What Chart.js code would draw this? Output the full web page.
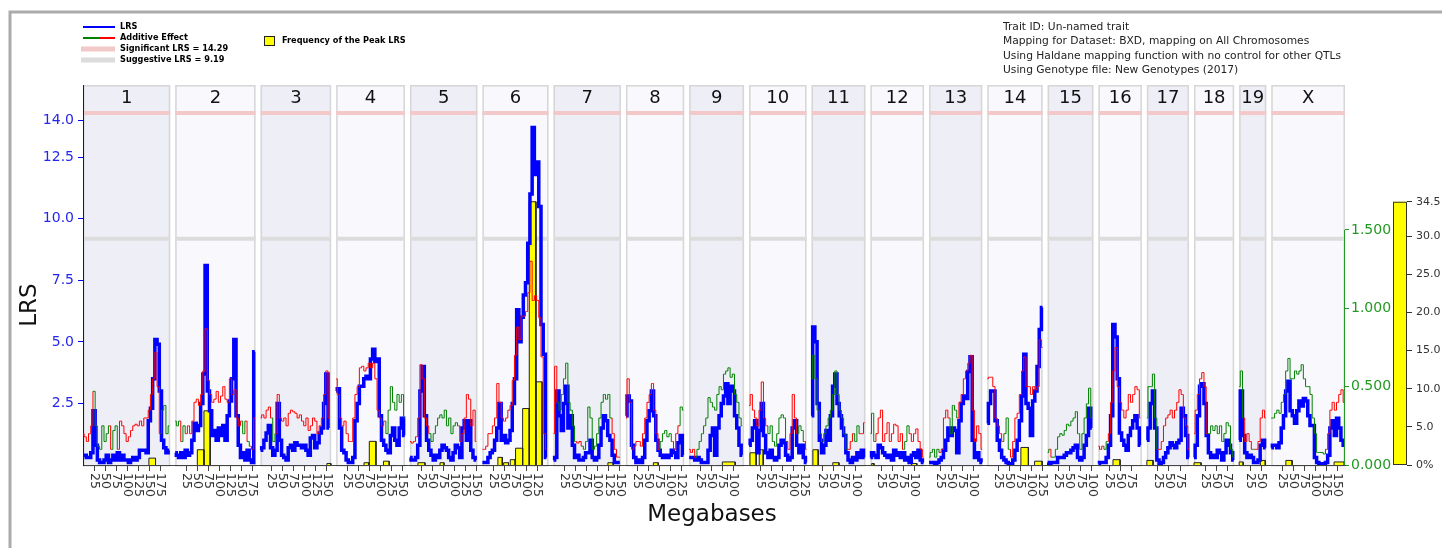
<!DOCTYPE html>
<html>
<head>
<meta charset="utf-8">
<script src="https://cdn.jsdelivr.net/npm/chart.js@4.4.1/dist/chart.umd.min.js"></script>
<style>
  html, body { margin: 0; padding: 0; background: #fff; }
  #wrap { width: 1442px; height: 548px; }
</style>
</head>
<body>
<div id="wrap"><canvas id="qtlChart" width="1442" height="548"></canvas></div>
<script>
// chromosomes (Mb)
var chrNames = ['1','2','3','4','5','6','7','8','9','10','11','12','13','14','15','16','17','18','19','X'];
var chrLengths = [197.2, 181.7, 159.6, 155.6, 152.5, 149.5, 152.5, 131.7, 124.1, 130.0, 121.8, 121.3, 120.3, 125.2, 103.5, 98.3, 95.3, 90.8, 61.3, 166.7];
var chrGap = 11.3;
var sampleStep = 5; // Mb between samples in lrsValues / addValues

// LRS, one array per chromosome, sampled at 0, 5, 10 ... Mb
var lrsValues = [
  [0.4,0.4,0.3,0.3,0.5,2.2,0.8,0.2,0.1,0.1, 0.2,0.4,0.1,0.2,0.4,0.2,0.5,0.2,0.4,0.2, 0.2,0.1,0.2,0.3,0.2,0.3,0.6,0.6,0.6,0.5, 1.8,2.3,3.5,5.1,4.9,3.0,1.0,0.7,0.5,0.6],
  [0.5,0.4,0.3,0.5,0.3,0.6,0.4,0.5,1.0,1.7, 1.4,1.6,2.5,3.7,8.1,3.0,2.2,1.2,1.4,1.0, 1.5,1.2,1.6,1.0,2.0,2.6,3.5,5.1,2.0,0.8, 0.3,0.5,0.2,0.6,0.2,0.1,4.6],
  [0.6,0.7,1.0,1.3,1.6,0.7,0.4,0.6,2.5,1.0, 0.4,0.3,0.2,0.7,0.8,0.6,0.9,0.8,0.8,0.7, 0.8,0.6,0.4,1.1,1.2,0.7,0.9,1.3,1.5,2.5, 3.7,1.5],
  [3.0,3.1,1.5,0.6,0.5,0.2,0.1,0.1,0.3,1.8, 2.5,3.2,3.2,3.5,3.6,3.5,4.3,4.7,4.2,4.3, 2.0,1.0,0.8,0.6,0.5,1.2,1.5,1.0,0.8,1.5, 1.9,1.2],
  [0.3,0.2,0.2,0.3,0.8,3.0,4.0,2.0,1.0,0.6, 0.4,0.2,0.4,0.3,0.6,0.8,0.7,0.6,0.3,0.2, 0.5,0.8,0.7,0.3,1.5,1.8,1.0,1.8,0.6,0.3, 0.2],
  [0.1,0.1,0.1,0.3,0.5,0.6,1.0,1.5,2.5,1.0, 1.2,0.9,1.0,1.4,2.5,3.5,6.3,5.0,6.0,6.9, 7.4,9.0,11.0,13.7,11.8,12.3,10.5,5.7,4.5,0.3],
  [0.2,0.3,3.0,2.0,1.4,2.5,3.2,1.5,2.0,0.8, 0.3,0.4,0.2,0.2,0.3,0.5,0.5,1.0,0.3,0.2, 0.3,0.8,1.5,2.0,1.8,1.2,1.0,0.4,0.1,0.1, 0.1],
  [2.0,2.8,2.6,0.8,0.3,0.1,0.2,0.1,0.3,1.0, 1.8,2.2,3.0,2.0,1.0,0.6,0.4,0.3,0.4,0.3, 0.4,0.6,0.5,0.3,0.9,1.2,0.4],
  [0.3,0.3,0.3,0.2,0.3,0.2,0.1,0.1,0.1,0.6, 1.2,1.5,0.4,1.5,2.0,2.5,2.8,3.3,2.5,3.2, 3.0,2.0,1.5,0.8,0.4],
  [0.8,1.0,1.5,1.8,0.5,1.4,2.5,1.2,0.5,0.3, 0.6,0.3,0.2,0.3,0.8,1.0,0.9,0.4,0.2,0.3, 1.5,1.8,0.8,0.5,0.8,0.3,0.1],
  [2.0,5.6,5.0,2.5,1.0,0.5,0.8,1.4,1.0,2.0, 3.2,3.7,2.5,2.0,1.5,1.2,0.5,0.2,0.1,0.3, 0.2,0.5,0.3,0.6,0.3],
  [0.3,0.5,0.4,0.3,0.8,0.7,0.5,0.4,0.3,0.4, 0.2,0.6,0.4,0.5,0.3,0.5,0.2,0.3,0.1,0.4, 0.5,0.3,0.6,0.2,0.1],
  [0.1,0.1,0.1,0.05,0.1,0.2,0.3,0.6,1.0,1.5, 1.2,1.5,1.4,0.5,1.8,2.5,2.8,2.7,3.8,4.4, 1.0,0.3,0.5,0.2,0.1],
  [1.7,2.5,3.0,3.0,1.8,1.0,0.6,0.3,0.2,0.1, 0.05,0.05,0.2,0.6,1.0,1.8,2.8,4.5,2.5,2.3, 1.2,2.6,3.0,4.0,5.5,6.4],
  [0.1,0.05,0.1,0.1,0.1,0.3,0.3,0.3,0.4,0.5, 0.5,0.6,0.7,0.8,0.3,0.2,0.3,0.8,1.2,2.3, 1.5],
  [0.05,0.1,0.1,0.1,0.3,0.8,2.0,5.7,5.2,3.5, 1.3,1.0,0.8,0.6,1.2,1.5,1.8,2.0,1.5,0.8],
  [1.0,1.5,2.5,3.0,1.5,0.2,0.05,0.1,0.3,0.5, 0.7,0.9,0.8,0.7,0.9,1.0,2.3,2.0,1.2,0.3],
  [0.3,0.8,2.0,3.2,3.3,2.5,1.2,0.5,0.3,0.4, 0.3,0.6,0.5,0.2,0.5,1.0,0.8,0.5,0.2],
  [1.0,3.0,1.2,0.5,0.3,0.4,0.3,0.1,0.1,0.2, 0.8,1.0,0.7],
  [0.7,0.8,0.8,0.7,0.9,1.5,2.0,3.0,3.4,2.2, 2.0,1.7,2.2,2.6,2.4,2.7,2.6,2.0,1.6,1.6, 0.3,0.1,0.05,0.05,0.05,0.1,0.4,1.5,1.8,1.2, 1.9,1.5,1.0,0.8]
];

// additive effect, same grid; positive = red, negative = green (plotted as magnitude)
var addValues = [
  [-0.2,0.18,0.15,0.2,0.25,0.47,-0.25,-0.12,-0.1,-0.25, -0.15,-0.2,-0.25,0.1,-0.22,-0.25,-0.1,0.28,0.25,0.2, 0.15,0.18,0.22,0.25,0.26,0.25,0.28,0.25,0.3,0.3, 0.35,0.45,0.55,0.72,0.5,0.2,-0.35,-0.38,-0.2,-0.25],
  [0.28,-0.25,-0.28,0.15,-0.25,-0.2,0.25,0.2,0.28,0.4, 0.42,0.38,0.45,0.6,0.87,0.54,0.45,0.4,0.42,0.47, 0.4,0.44,0.5,0.42,0.4,0.55,0.45,0.48,0.3,0.25, 0.28,-0.2,-0.28,0.15,-0.12,0.1,0.3],
  [0.3,0.32,0.3,0.35,0.37,0.3,-0.15,-0.2,0.45,0.3, 0.28,0.3,0.25,0.33,0.35,0.34,0.33,0.3,0.32,0.28, 0.25,0.3,0.22,0.25,0.3,0.28,0.2,0.25,0.3,0.45, 0.6,0.3],
  [0.55,0.45,0.3,0.25,0.28,0.2,0.15,0.15,0.3,0.45, 0.5,0.62,0.63,0.6,0.62,0.65,0.62,0.65,0.55,0.35, 0.3,0.25,0.28,-0.2,-0.35,-0.5,-0.4,-0.35,-0.45,-0.4, -0.45,-0.3],
  [0.15,0.14,0.15,0.18,0.3,0.64,0.55,0.3,0.25,0.2, -0.15,-0.2,-0.25,-0.3,-0.32,-0.3,-0.35,-0.25,-0.3,-0.2, -0.25,-0.27,-0.25,0.15,0.2,0.3,0.45,0.42,0.25,0.35, 0.15],
  [0.1,0.1,0.12,0.2,0.2,0.25,0.3,0.52,0.4,0.3, 0.28,0.3,0.35,0.38,0.54,0.7,0.88,0.8,0.95,0.95, 0.98,1.1,1.3,1.05,1.08,1.05,0.94,0.69,0.2,0.1],
  [0.2,0.63,0.4,-0.35,-0.45,-0.55,-0.65,-0.4,-0.35,-0.25, -0.15,0.14,0.15,0.12,-0.1,-0.15,-0.37,-0.3,-0.1,-0.12, -0.2,-0.3,-0.4,-0.45,-0.42,-0.45,-0.3,0.2,0.1,0.05, 0.05],
  [0.3,0.55,0.4,0.1,0.12,0.15,0.15,0.12,0.2,0.3, 0.4,0.45,0.52,0.35,0.2,0.1,-0.15,-0.2,-0.22,-0.18, -0.2,-0.15,0.1,0.2,0.25,-0.37,-0.35],
  [0.1,0.08,0.1,0.05,-0.1,-0.15,-0.2,-0.25,-0.3,-0.43, -0.4,-0.37,-0.35,-0.45,-0.5,-0.48,-0.58,-0.6,-0.62,-0.56, -0.58,-0.45,-0.4,-0.3,-0.25],
  [0.38,0.45,0.35,0.3,0.25,0.35,0.53,0.3,0.25,-0.2, -0.25,-0.15,-0.12,-0.2,-0.3,-0.32,-0.3,-0.15,0.1,0.2, 0.45,0.3,0.2,-0.25,-0.22,-0.15,0.1],
  [-0.55,-0.7,-0.55,-0.35,-0.2,-0.15,-0.2,-0.25,-0.3,-0.35, -0.45,-0.6,-0.45,-0.35,-0.3,-0.2,-0.1,0.1,0.15,0.2, -0.15,-0.25,-0.2,0.2,0.27],
  [-0.2,-0.33,-0.15,0.2,0.3,0.35,0.15,0.2,0.27,0.15, 0.2,0.26,0.25,0.15,0.2,0.1,-0.15,-0.25,-0.2,0.15, 0.2,0.23,0.15,0.1,0.05],
  [-0.05,-0.08,-0.1,-0.05,-0.1,-0.08,0.1,0.3,0.35,0.3, -0.2,-0.38,-0.35,-0.3,0.4,0.45,0.55,0.6,0.65,0.7, 0.35,0.15,0.25,0.2,0.1],
  [0.55,0.56,0.56,0.5,0.3,0.25,0.2,0.15,-0.2,-0.3, -0.1,0.05,0.15,0.3,0.33,0.45,0.6,0.69,0.5,0.5, 0.45,0.5,0.48,0.5,0.8,0.75],
  [-0.08,-0.1,0.05,-0.05,-0.1,-0.18,-0.2,-0.19,-0.22,-0.26, -0.25,-0.28,-0.3,-0.34,-0.2,-0.1,-0.2,-0.3,-0.39,-0.49, -0.3],
  [0.12,0.1,0.12,-0.1,-0.15,0.2,0.4,0.6,0.75,0.5, 0.4,0.35,0.3,0.35,0.45,0.4,0.45,0.5,0.48,0.3],
  [-0.3,-0.5,-0.5,-0.58,-0.3,-0.1,0.1,0.15,0.25,0.3, 0.32,0.35,0.3,0.35,0.4,0.48,0.45,0.3,0.25,0.1],
  [0.2,0.35,0.45,0.55,0.59,0.5,0.2,-0.2,-0.25,-0.22, -0.25,-0.2,-0.25,-0.15,-0.2,-0.27,-0.25,-0.1,-0.05],
  [-0.5,-0.6,-0.3,0.15,0.2,0.15,0.1,-0.1,0.1,0.15, 0.3,0.35,0.3],
  [-0.3,-0.3,-0.33,-0.35,-0.33,-0.4,-0.45,-0.6,-0.68,-0.55, -0.55,-0.6,-0.58,-0.6,-0.64,-0.55,-0.5,-0.5,-0.45,-0.3, -0.2,-0.08,-0.08,-0.08,-0.07,-0.1,0.2,0.35,0.4,0.35, 0.4,0.45,0.48,0.4]
];

// frequency of the peak LRS (histogram bins)
var freqChr    = ['1','2','2','3','4','4','4','5','5','6','6','6','6','6','6','6','7','8','9','10','10','11','11','12','12','14','14','16','17','18','19','19','X','X'];
var freqStart  = [149,50,65,150,63,75,107,18,68,35,48,63,75,91,106,121,123,62,75,2,23,3,48,3,93,76,107,33,0,0,0,48,33,142];
var freqEnd    = [164,65,79,159,74,90,120,34,77,45,59,74,91,106,121,135,135,73,104,16,32,15,62,8,105,93,124,49,14,16,9,59,47,165];
var freqValues = [0.9,2.0,7.1,0.2,0.3,3.1,0.5,0.3,0.3,1.0,0.3,0.7,2.2,7.4,34.5,10.9,0.3,0.3,0.4,1.6,2.0,2.0,0.3,0.2,0.2,2.3,0.5,0.7,0.6,0.3,0.4,0.6,0.6,0.4];

var lrsTicks = [2.5, 5, 7.5, 10, 12.5, 14];
var addTicks = [0, 0.5, 1, 1.5];
var freqTicks = [0, 5, 10, 15, 20, 25, 30, 34.5];
var mbTicks = [25, 50, 75, 100, 125, 150, 175];
var significantLRS = 14.29;
var suggestiveLRS = 9.19;
var infoLines = [
  'Trait ID: Un-named trait',
  'Mapping for Dataset: BXD, mapping on All Chromosomes',
  'Using Haldane mapping function with no control for other QTLs',
  'Using Genotype file: New Genotypes (2017)'
];

var FONT = '"DejaVu Sans", Verdana, sans-serif';

// chromosome offsets on one genome-wide axis
var chrOffsets = [];
var pos = 0;
for (var c = 0; c < chrLengths.length; c++) {
  chrOffsets.push(pos);
  pos += chrLengths[c] + chrGap;
}
var totalMb = pos - chrGap;

var xTickValues = [];
var xTickLabels = [];
for (var c = 0; c < chrLengths.length; c++) {
  for (var t = 0; t < mbTicks.length; t++) {
    if (mbTicks[t] <= chrLengths[c]) {
      xTickValues.push(chrOffsets[c] + mbTicks[t]);
      xTickLabels.push(String(mbTicks[t]));
    }
  }
}

var lrsPoints = [];
var addPoints = [];
for (var c = 0; c < chrLengths.length; c++) {
  for (var i = 0; i < lrsValues[c].length; i++) {
    lrsPoints.push({x: chrOffsets[c] + i * sampleStep, y: lrsValues[c][i]});
  }
  lrsPoints.push({x: chrOffsets[c] + chrLengths[c], y: null});
  for (var i = 0; i < addValues[c].length; i++) {
    addPoints.push({x: chrOffsets[c] + i * sampleStep, y: Math.abs(addValues[c][i]), s: addValues[c][i]});
  }
  addPoints.push({x: chrOffsets[c] + chrLengths[c], y: null, s: 0});
}

var freqPoints = [];
for (var k = 0; k < freqValues.length; k++) {
  var off = chrOffsets[chrNames.indexOf(freqChr[k])];
  var x0 = off + freqStart[k], x1 = off + freqEnd[k];
  freqPoints.push({x: x0, y: 0}, {x: x0, y: freqValues[k]}, {x: x1, y: freqValues[k]}, {x: x1, y: 0}, {x: x1, y: null});
}

var backdrop = {
  id: 'backdrop',
  beforeDraw: function (chart) {
    var ctx = chart.ctx, area = chart.chartArea;
    var xs = chart.scales.x, ys = chart.scales.yLRS;
    ctx.save();
    ctx.fillStyle = '#fff';
    ctx.fillRect(0, 0, chart.width, chart.height);

    // outer frame
    ctx.strokeStyle = '#ababab';
    ctx.lineWidth = 3;
    ctx.beginPath();
    ctx.moveTo(10, chart.height + 5);
    ctx.lineTo(10, 12);
    ctx.lineTo(chart.width + 5, 12);
    ctx.stroke();

    // chromosome bands, threshold lines, numbers
    for (var c = 0; c < chrNames.length; c++) {
      var bx0 = xs.getPixelForValue(chrOffsets[c]);
      var bx1 = xs.getPixelForValue(chrOffsets[c] + chrLengths[c]);
      ctx.fillStyle = c % 2 === 0 ? '#eeeef7' : '#f8f8fd';
      ctx.fillRect(bx0, area.top, bx1 - bx0, area.bottom - area.top);
      ctx.strokeStyle = '#d6d6d6';
      ctx.lineWidth = 1.5;
      ctx.strokeRect(bx0 + 0.75, area.top + 0.75, bx1 - bx0 - 1.5, area.bottom - area.top);

      ctx.lineWidth = 4;
      ctx.strokeStyle = '#f2c8c8';
      var sy = ys.getPixelForValue(significantLRS);
      ctx.beginPath(); ctx.moveTo(bx0, sy); ctx.lineTo(bx1, sy); ctx.stroke();
      ctx.strokeStyle = '#dcdcdc';
      var gy = ys.getPixelForValue(suggestiveLRS);
      ctx.beginPath(); ctx.moveTo(bx0, gy); ctx.lineTo(bx1, gy); ctx.stroke();

      ctx.fillStyle = '#111';
      ctx.font = '18px ' + FONT;
      ctx.textAlign = 'center';
      ctx.textBaseline = 'middle';
      ctx.fillText(chrNames[c], (bx0 + bx1) / 2, area.top + 13);
    }

    // legend
    ctx.lineWidth = 2;
    ctx.strokeStyle = '#0000ff';
    ctx.beginPath(); ctx.moveTo(83, 27); ctx.lineTo(115, 27); ctx.stroke();
    ctx.strokeStyle = '#008000';
    ctx.beginPath(); ctx.moveTo(83, 38); ctx.lineTo(100, 38); ctx.stroke();
    ctx.strokeStyle = '#ff0000';
    ctx.beginPath(); ctx.moveTo(100, 38); ctx.lineTo(115, 38); ctx.stroke();
    ctx.lineWidth = 5;
    ctx.strokeStyle = '#f2c8c8';
    ctx.beginPath(); ctx.moveTo(81, 49); ctx.lineTo(115, 49); ctx.stroke();
    ctx.strokeStyle = '#dcdcdc';
    ctx.beginPath(); ctx.moveTo(81, 60); ctx.lineTo(115, 60); ctx.stroke();
    ctx.fillStyle = '#ffff00';
    ctx.fillRect(264, 36, 10, 9);
    ctx.lineWidth = 1;
    ctx.strokeStyle = '#222';
    ctx.strokeRect(264.5, 36.5, 10, 9);

    ctx.fillStyle = '#000';
    ctx.font = 'bold 8.2px ' + FONT;
    ctx.textAlign = 'left';
    ctx.textBaseline = 'middle';
    ctx.fillText('LRS', 120, 27);
    ctx.fillText('Additive Effect', 120, 38);
    ctx.fillText('Significant LRS = ' + significantLRS.toFixed(2), 120, 49);
    ctx.fillText('Suggestive LRS = ' + suggestiveLRS.toFixed(2), 120, 60);
    ctx.fillText('Frequency of the Peak LRS', 282, 41);

    // trait info
    ctx.fillStyle = '#222';
    ctx.font = '10.7px ' + FONT;
    for (var i = 0; i < infoLines.length; i++) {
      ctx.fillText(infoLines[i], 1003, 27 + i * 14.5);
    }
    ctx.restore();
  },
  afterDraw: function (chart) {
    var ctx = chart.ctx, area = chart.chartArea;
    var xs = chart.scales.x, ya = chart.scales.yAdd, yf = chart.scales.yFreq;
    ctx.save();

    // rotated Mb labels
    ctx.fillStyle = '#333';
    ctx.font = '12.5px ' + FONT;
    ctx.textAlign = 'left';
    ctx.textBaseline = 'middle';
    for (var i = 0; i < xTickValues.length; i++) {
      ctx.save();
      ctx.translate(xs.getPixelForValue(xTickValues[i]), area.bottom + 8);
      ctx.rotate(Math.PI / 2);
      ctx.fillText(xTickLabels[i], 0, 0);
      ctx.restore();
    }

    // titles
    ctx.fillStyle = '#111';
    ctx.font = '23px ' + FONT;
    ctx.textAlign = 'center';
    ctx.fillText('Megabases', 712, 515);
    ctx.save();
    ctx.translate(30, 305);
    ctx.rotate(-Math.PI / 2);
    ctx.fillText('LRS', 0, 0);
    ctx.restore();

    // additive axis line (0 .. 1.5 only)
    ctx.strokeStyle = '#229922';
    ctx.lineWidth = 1;
    var ax = Math.round(ya.left) - 0.5;
    ctx.beginPath();
    ctx.moveTo(ax, ya.getPixelForValue(0));
    ctx.lineTo(ax, ya.getPixelForValue(addTicks[addTicks.length - 1]));
    ctx.stroke();

    // frequency colour bar
    var fTop = yf.getPixelForValue(freqTicks[freqTicks.length - 1]);
    var fBot = yf.getPixelForValue(0);
    var fx = Math.round(yf.left);
    ctx.fillStyle = '#ffff00';
    ctx.fillRect(fx - 14, fTop, 14, fBot - fTop);
    ctx.strokeStyle = '#333';
    ctx.strokeRect(fx - 13.5, fTop + 0.5, 13, fBot - fTop - 1);
    ctx.restore();
  }
};

var ctx = document.getElementById('qtlChart');
var qtlChart = new Chart(ctx, {
  type: 'line',
  data: {
    datasets: [{
      label: 'Frequency of the Peak LRS',
      data: freqPoints,
      yAxisID: 'yFreq',
      borderColor: '#222',
      borderWidth: 1,
      backgroundColor: '#ffff00',
      fill: 'origin',
      pointRadius: 0,
      order: 3
    }, {
      label: 'LRS',
      data: lrsPoints,
      yAxisID: 'yLRS',
      borderColor: '#0000ff',
      borderWidth: 3.5,
      pointRadius: 0,
      fill: false,
      stepped: 'middle',
      order: 2
    }, {
      label: 'Additive Effect',
      data: addPoints,
      yAxisID: 'yAdd',
      borderColor: '#ff0000',
      borderWidth: 1,
      pointRadius: 0,
      fill: false,
      stepped: 'middle',
      segment: {
        borderColor: function (c) { return addPoints[c.p1DataIndex].s < 0 ? '#008000' : '#ff0000'; }
      },
      order: 1
    }]
  },
  options: {
    responsive: false,
    animation: false,
    events: [],
    layout: { padding: { top: 85, left: 0, right: 0, bottom: 0 } },
    plugins: {
      legend: { display: false },
      tooltip: { enabled: false },
      title: { display: false }
    },
    scales: {
      x: {
        type: 'linear',
        min: 0,
        max: totalMb,
        border: { display: true, color: '#444', width: 1 },
        grid: { drawOnChartArea: false, drawTicks: true, tickLength: 6, tickColor: '#444' },
        ticks: { display: false },
        afterBuildTicks: function (s) { s.ticks = xTickValues.map(function (v) { return {value: v}; }); },
        afterFit: function (s) { s.height = 83; }
      },
      yLRS: {
        type: 'linear',
        position: 'left',
        min: 0,
        max: 15.43,
        border: { display: true, color: '#0000ff', width: 1 },
        grid: { drawOnChartArea: false, tickLength: 5, tickColor: '#0000ff' },
        ticks: {
          color: '#2626ee',
          font: { family: FONT, size: 14 },
          padding: 4,
          autoSkip: false,
          callback: function (v) { return v.toFixed(1); }
        },
        afterBuildTicks: function (s) { s.ticks = lrsTicks.map(function (v) { return {value: v}; }); },
        afterFit: function (s) { s.width = 83; }
      },
      yAdd: {
        type: 'linear',
        position: 'right',
        weight: 1,
        min: 0,
        max: 2.425,
        border: { display: false },
        grid: { drawOnChartArea: false, tickLength: 4, tickColor: '#229922' },
        ticks: {
          color: '#229922',
          font: { family: FONT, size: 14 },
          padding: 2,
          autoSkip: false,
          callback: function (v) { return v.toFixed(3); }
        },
        afterBuildTicks: function (s) { s.ticks = addTicks.map(function (v) { return {value: v}; }); },
        afterFit: function (s) { s.width = 62; }
      },
      yFreq: {
        type: 'linear',
        position: 'right',
        weight: 2,
        min: 0,
        max: 49.8,
        border: { display: false },
        grid: { drawOnChartArea: false, tickLength: 5, tickColor: '#333' },
        ticks: {
          color: '#333',
          font: { family: FONT, size: 11 },
          padding: 4,
          autoSkip: false,
          callback: function (v) { return v === 0 ? '0%' : v.toFixed(1); }
        },
        afterBuildTicks: function (s) { s.ticks = freqTicks.map(function (v) { return {value: v}; }); },
        afterFit: function (s) { s.width = 35; }
      }
    }
  },
  plugins: [backdrop]
});
</script>
</body>
</html>
